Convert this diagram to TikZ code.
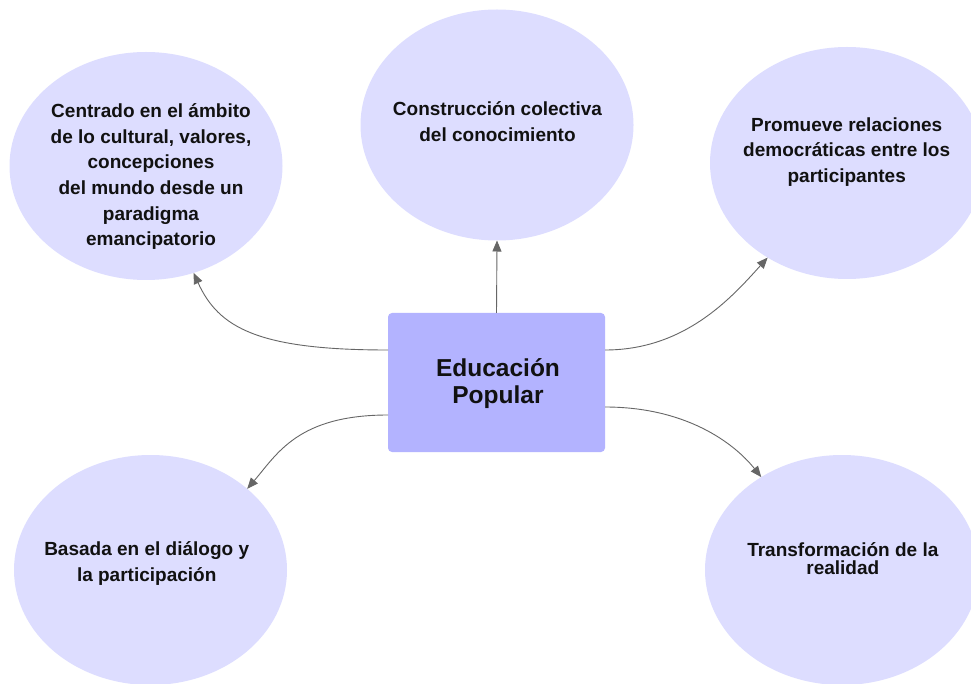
\documentclass[tikz,border=0pt]{standalone}
\usepackage{fontspec}
\setmainfont{Liberation Sans}
\usetikzlibrary{shapes.geometric,arrows.meta}
\definecolor{ellfill}{HTML}{DDDDFF}
\definecolor{boxfill}{HTML}{B3B3FF}
\definecolor{arrowcol}{HTML}{666666}
\definecolor{txtcol}{HTML}{111111}
\begin{document}
\begin{tikzpicture}[x=1pt,y=-1pt,
  bubble/.style={ellipse,fill=ellfill,draw=none,inner sep=0pt,outer sep=0pt},
  mainbox/.style={rectangle,rounded corners=4pt,fill=boxfill,draw=none,inner sep=0pt,outer sep=0pt,
    minimum width=217pt,minimum height=139pt},
  smalltxt/.style={align=center,anchor=base,text=txtcol,inner sep=0pt,
    font=\bfseries\fontsize{19}{25.7}\selectfont},
  bigtxt/.style={align=center,anchor=base,text=txtcol,inner sep=0pt,
    font=\bfseries\fontsize{24.5}{27}\selectfont},
  conn/.style={draw=arrowcol,line width=0.9pt,-{Triangle[length=11pt,width=9pt]}}
]
\useasboundingbox (0,0) rectangle (971,684);
\fill[white] (0,0) rectangle (971,684);

% bubbles
\node[bubble,minimum width=273pt,minimum height=228pt] (e1) at (146,166) {};
\node[bubble,minimum width=273pt,minimum height=231pt] (e2) at (497,125) {};
\node[bubble,minimum width=274pt,minimum height=232pt] (e3) at (847,163) {};
\node[bubble,minimum width=273pt,minimum height=230pt] (e4) at (150.5,570) {};
\node[bubble,minimum width=274pt,minimum height=230pt] (e5) at (842,570) {};

% central box
\node[mainbox] (ep) at (496.5,382.5) {};

% texts (anchor base = baseline of last line)
\node[smalltxt] (t1) at (151,246) {Centrado en el ámbito\\de lo cultural, valores,\\concepciones\\del mundo desde un\\paradigma\\emancipatorio};
\node[smalltxt] (t2) at (497.5,141.7) {Construcción colectiva\\del conocimiento};
\node[smalltxt] (t3) at (846.7,182.7) {Promueve relaciones\\democráticas entre los\\participantes};
\node[smalltxt] (t4) at (146.7,581.5) {Basada en el diálogo y\\la participación};
\node[smalltxt,font=\bfseries\fontsize{19}{18}\selectfont] (t5) at (842.8,574) {Transformación de la\\realidad};
\node[bigtxt] (tep) at (498,403) {Educación\\Popular};

% connectors
\draw[conn] ([yshift=32.5pt]ep.west) .. controls +(-130,0) and +(25,55) .. (e1.-66);
\draw[conn] (ep.north) -- (e2.south);
\draw[conn] ([yshift=32.5pt]ep.east) .. controls +(80,0) and +(-36,40) .. (e3.-130.5);
\draw[conn] ([yshift=-32.5pt]ep.west) .. controls +(-90,0) and +(30,-35) .. (e4.40);
\draw[conn] ([yshift=-24.5pt]ep.east) .. controls +(80,0) and +(-28,-35) .. (e5.131.7);
\end{tikzpicture}
\end{document}
